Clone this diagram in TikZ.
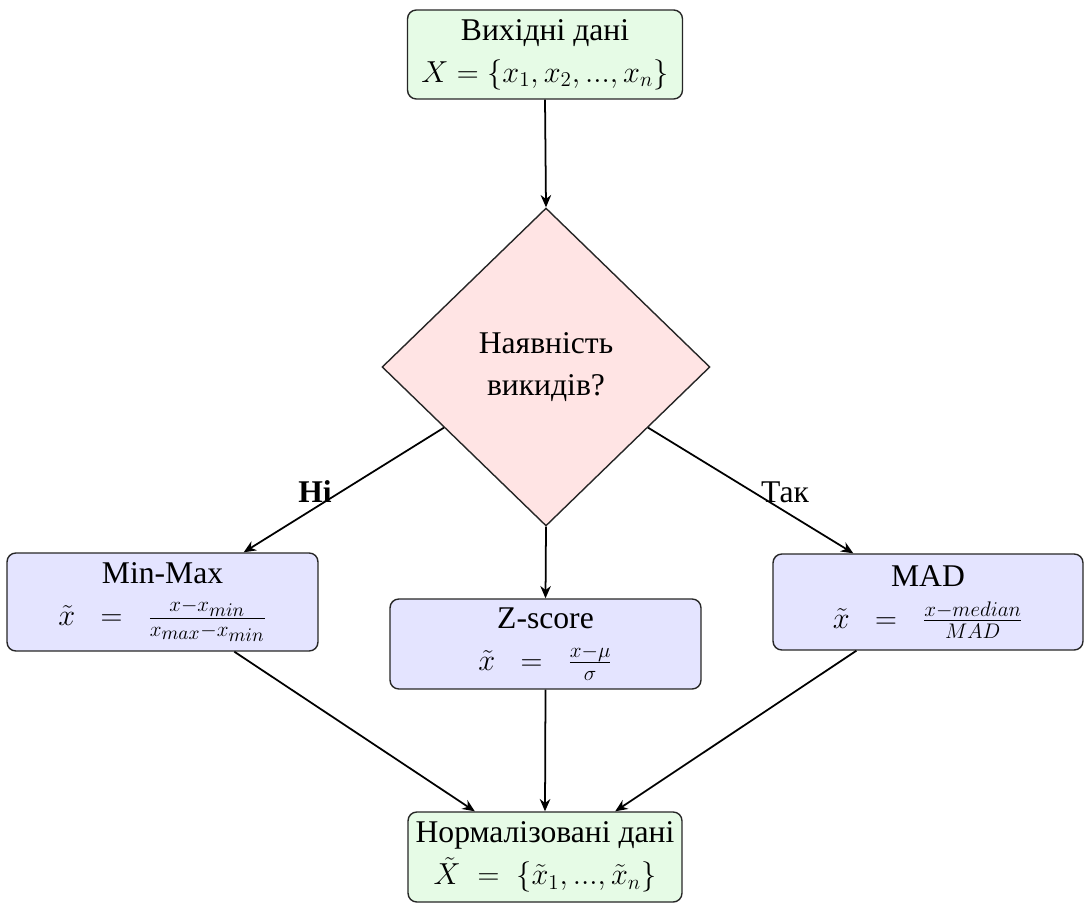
\documentclass[tikz,border=0pt]{standalone}
\usepackage[no-math]{fontspec}
\setmainfont{Liberation Serif}
\DeclareMathSizes{18}{18}{13.2}{11}
\usetikzlibrary{shapes.geometric,arrows.meta,calc}
\definecolor{gfill}{RGB}{230,251,230}
\definecolor{rfill}{RGB}{255,228,228}
\definecolor{bfill}{RGB}{228,228,255}
\begin{document}
\begin{tikzpicture}[x=0.02cm,y=-0.02cm,
  base/.style={draw=black!85,line width=0.8pt,rounded corners=5pt,align=center,inner sep=0pt,
    font=\fontsize{18}{23}\selectfont},
  startbox/.style={base,fill=gfill},
  methodbox/.style={base,fill=bfill},
  decisionbox/.style={draw=black!85,line width=0.8pt,fill=rfill,diamond,align=center,inner sep=0pt,
    minimum width=6.56cm,minimum height=6.36cm,font=\fontsize{18}{23}\selectfont},
  conn/.style={line width=1pt,-{Stealth[length=7pt,width=6pt]}},
  lbl/.style={font=\fontsize{18}{20}\selectfont\bfseries,inner sep=0pt}]
\useasboundingbox (0,0) rectangle (1084,908);
\node[startbox,minimum width=5.5cm,minimum height=1.78cm] (in) at (545,54.5)
  {Вихідні дані\\[1pt] $X=\{x_1,x_2,...,x_n\}$};
\node[decisionbox] (dec) at (546,367) {Наявність\\[1pt] викидів?};
\node[methodbox,minimum width=6.22cm,minimum height=1.96cm] (mm) at (162.5,602)
  {Min-Max\\[1pt] $\tilde{x}\;\;=\;\;\frac{x-x_{min}}{x_{max}-x_{min}}$};
\node[methodbox,minimum width=6.22cm,minimum height=1.8cm] (zs) at (545.5,644)
  {Z-score\\[1pt] $\tilde{x}\;\;=\;\;\frac{x-\mu}{\sigma}$};
\node[methodbox,minimum width=6.2cm,minimum height=1.92cm] (mad) at (928,602)
  {MAD\\[1pt] $\tilde{x}\;\;=\;\;\frac{x-median}{MAD}$};
\node[startbox,minimum width=5.48cm,minimum height=1.8cm] (out) at (545,857)
  {Нормалізовані дані\\[1pt] $\tilde{X}\;=\;\{\tilde{x}_1,...,\tilde{x}_n\}$};
\draw[conn] (in.south) -- (dec.north);
\draw[conn] ($(dec.west)!0.38!(dec.south)$) -- ($(mm.north west)!0.76!(mm.north east)$);
\draw[conn] ($(dec.east)!0.38!(dec.south)$) -- ($(mad.north west)!0.26!(mad.north east)$);
\draw[conn] (dec.south) -- (zs.north);
\draw[conn] ($(mm.south west)!0.73!(mm.south east)$) -- ($(out.north west)!0.245!(out.north east)$);
\draw[conn] (zs.south) -- (out.north);
\draw[conn] ($(mad.south west)!0.27!(mad.south east)$) -- ($(out.north west)!0.755!(out.north east)$);
\node[lbl] (no) at (315,492) {Ні};
\node[lbl,font=\fontsize{18}{20}\selectfont] (yes) at (785,492) {Так};
\end{tikzpicture}
\end{document}
